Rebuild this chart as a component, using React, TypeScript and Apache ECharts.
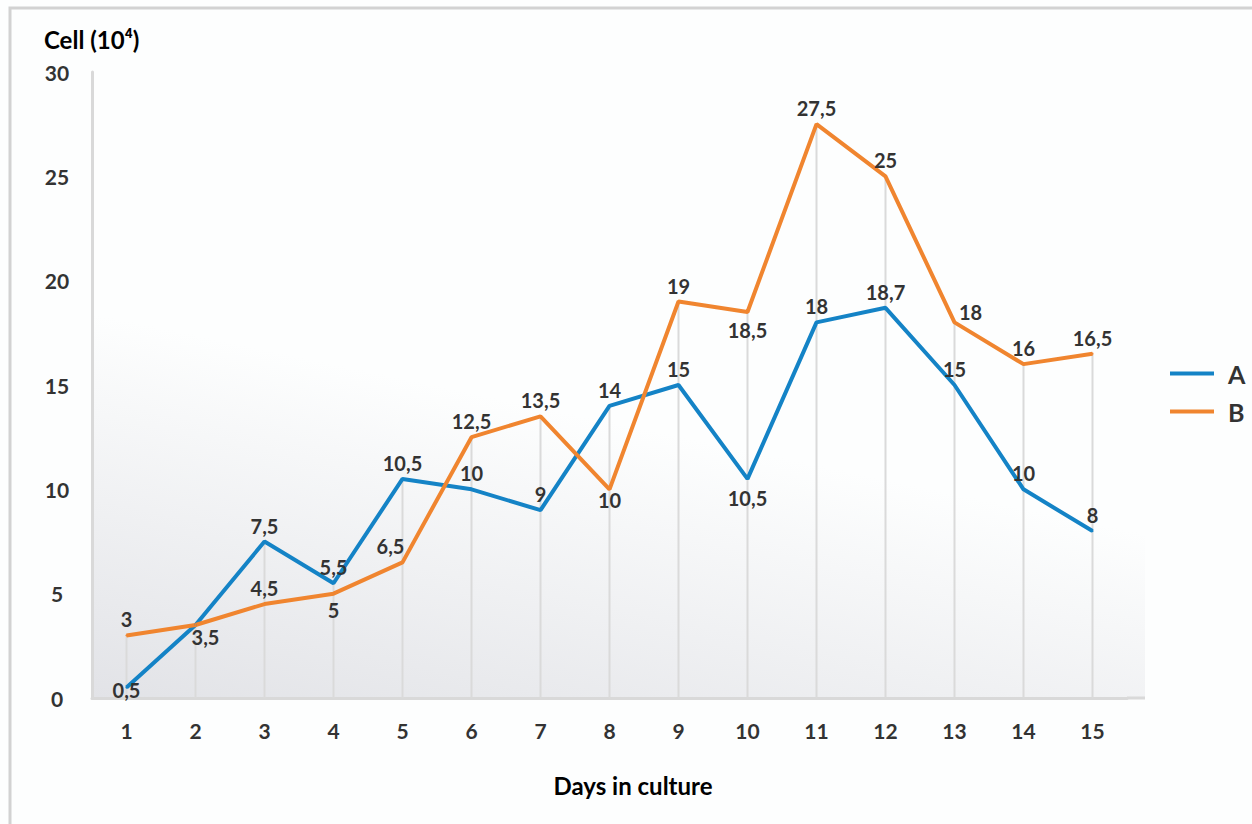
import { useEffect, useRef } from "react";
import * as echarts from "echarts";

// Cell counts per day of culture (×10⁴)
const days = ["1", "2", "3", "4", "5", "6", "7", "8", "9", "10", "11", "12", "13", "14", "15"];
const cellsA = [0.5, 3.5, 7.5, 5.5, 10.5, 10, 9, 14, 15, 10.5, 18, 18.7, 15, 10, 8];
const cellsB = [3, 3.5, 4.5, 5, 6.5, 12.5, 13.5, 10, 19, 18.5, 27.5, 25, 18, 16, 16.5];
const seriesNames = ["A", "B"];

const yMin = 0;
const yMax = 30;
const yStep = 5;

const FONT = 'Lato, "Open Sans", "DejaVu Sans", sans-serif';
const BLUE = "#1483c6";
const ORANGE = "#f0852f";
const LABEL_COLOR = "#333333";
const AXIS_GREY = "#d9d9d9";

// Per-point label placement so that crossing labels stay readable
const labelPlacement: Record<string, Record<number, any>> = {
  A: {
    0: { position: "inside", offset: [0, 2] },
    1: { position: "bottom", offset: [10, -4] },
    9: { position: "bottom", offset: [0, 3] },
  },
  B: {
    1: { show: false },
    3: { position: "bottom" },
    4: { offset: [-12, 0] },
    7: { position: "bottom", offset: [0, -5] },
    9: { position: "bottom", offset: [0, 2] },
    12: { offset: [16, 6] },
  },
};

const commaDecimal = (v: number) => String(v).replace(".", ",");

function buildSeriesData(name: string, values: number[]) {
  const tweaks = labelPlacement[name] || {};
  return values.map((v, i) => (tweaks[i] ? { value: v, label: tweaks[i] } : v));
}

export default function App() {
  const ref = useRef<HTMLDivElement>(null);

  useEffect(() => {
    if (!ref.current) return;
    const chart = echarts.init(ref.current, undefined, { renderer: "svg" });

    // drop lines rise from the axis to the higher of the two points
    const dropLines = days.map((_, i) => Math.max(cellsA[i], cellsB[i]));

    const lineLabel = {
      show: true,
      position: "top",
      distance: 5,
      color: LABEL_COLOR,
      fontFamily: FONT,
      fontWeight: "bold",
      fontSize: 20,
      formatter: (p: any) => commaDecimal(p.value),
    };

    const gridLeft = 92;
    const gridTop = 72;
    const gridBottomY = 698;
    const gridRight = 1127;

    chart.setOption({
      animation: false,
      backgroundColor: "#fdfefe",
      textStyle: { fontFamily: FONT },
      title: {
        text: "Cell (10⁴)",
        left: 39,
        top: 22,
        textStyle: { fontFamily: FONT, fontWeight: "bold", fontSize: 24, color: "#000" },
      },
      legend: {
        data: seriesNames,
        orient: "vertical",
        left: 1165,
        top: 356,
        icon: "rect",
        itemWidth: 44,
        itemHeight: 4,
        itemGap: 13,
        textStyle: {
          fontFamily: FONT,
          fontWeight: "bold",
          fontSize: 25,
          color: "#333",
          padding: [0, 0, 0, 9],
        },
      },
      grid: {
        left: gridLeft,
        top: gridTop,
        width: gridRight - gridLeft,
        height: gridBottomY - gridTop,
        containLabel: false,
      },
      graphic: [
        {
          type: "rect",
          z: -10,
          silent: true,
          shape: { x: gridLeft, y: gridTop, width: 1145 - gridLeft, height: gridBottomY - gridTop },
          style: {
            fill: new echarts.graphic.LinearGradient(
              650,
              430,
              573,
              798,
              [
                { offset: 0, color: "#fdfefe" },
                { offset: 1, color: "#e2e3e7" },
              ],
              true
            ),
          },
        },
        {
          type: "line",
          silent: true,
          z: 5,
          shape: { x1: gridRight, y1: gridBottomY, x2: 1145, y2: gridBottomY },
          style: { stroke: AXIS_GREY, lineWidth: 3 },
        },
        {
          type: "rect",
          silent: true,
          z: 100,
          shape: { x: 10, y: 8, width: 1400, height: 1000 },
          style: { fill: "none", stroke: "#d2d2d2", lineWidth: 3 },
        },
      ],
      xAxis: {
        type: "category",
        data: days,
        boundaryGap: true,
        name: "Days in culture",
        nameLocation: "middle",
        nameGap: 75,
        nameTextStyle: {
          fontFamily: FONT,
          fontWeight: "bold",
          fontSize: 24,
          color: "#000",
          padding: [0, 0, 0, 47],
        },
        axisLine: { show: true, lineStyle: { color: AXIS_GREY, width: 3 } },
        axisTick: { show: false },
        splitLine: { show: false },
        axisLabel: {
          margin: 22,
          color: LABEL_COLOR,
          fontFamily: FONT,
          fontWeight: "bold",
          fontSize: 21,
        },
      },
      yAxis: {
        type: "value",
        min: yMin,
        max: yMax,
        interval: yStep,
        axisLine: { show: true, lineStyle: { color: AXIS_GREY, width: 3 } },
        axisTick: { show: false },
        splitLine: { show: false },
        axisLabel: {
          margin: 35,
          align: "center",
          color: LABEL_COLOR,
          fontFamily: FONT,
          fontWeight: "bold",
          fontSize: 21,
        },
      },
      series: [
        {
          name: "drop",
          type: "bar",
          data: dropLines,
          barWidth: 2,
          silent: true,
          z: 1,
          itemStyle: { color: "#dadada" },
          label: { show: false },
        },
        {
          name: seriesNames[0],
          type: "line",
          data: buildSeriesData("A", cellsA),
          symbol: "circle",
          symbolSize: 2,
          z: 3,
          itemStyle: { color: BLUE },
          lineStyle: { color: BLUE, width: 4 },
          label: lineLabel,
        },
        {
          name: seriesNames[1],
          type: "line",
          data: buildSeriesData("B", cellsB),
          symbol: "circle",
          symbolSize: 2,
          z: 3,
          itemStyle: { color: ORANGE },
          lineStyle: { color: ORANGE, width: 4 },
          label: lineLabel,
        },
      ],
    });

    return () => chart.dispose();
  }, []);

  return (
    <div
      ref={ref}
      style={{ position: "absolute", left: 0, top: 0, width: 1252, height: 824 }}
    />
  );
}
